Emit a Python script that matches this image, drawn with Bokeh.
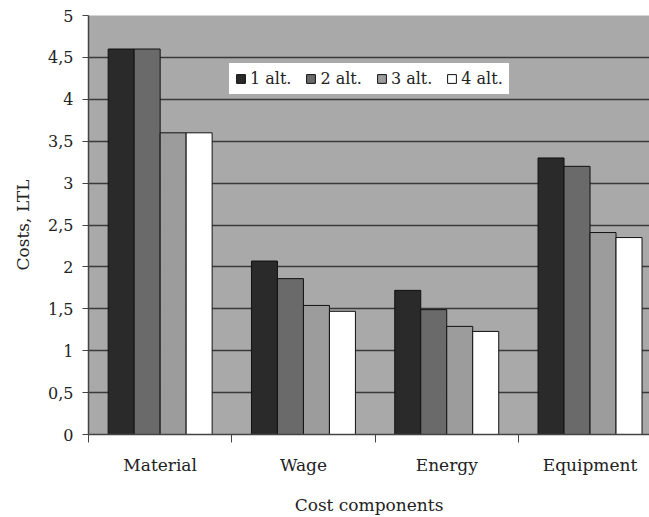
from bokeh.plotting import figure
from bokeh.models import Range1d, FixedTicker, Legend, LegendItem, ColumnDataSource
from bokeh.transform import dodge
from bokeh.embed import file_html
from bokeh.resources import INLINE

# ---- data ----
categories = ["Material", "Wage", "Energy", "Equipment"]
alt1 = [4.6, 2.07, 1.72, 3.3]
alt2 = [4.6, 1.86, 1.49, 3.2]
alt3 = [3.6, 1.54, 1.29, 2.41]
alt4 = [3.6, 1.47, 1.23, 2.35]
series_names = ["1 alt.", "2 alt.", "3 alt.", "4 alt."]
series_colors = ["#2a2a2a", "#6a6a6a", "#9c9c9c", "#ffffff"]
y_ticks = [0, 0.5, 1, 1.5, 2, 2.5, 3, 3.5, 4, 4.5, 5]
y_tick_labels = ["0", "0,5", "1", "1,5", "2", "2,5", "3", "3,5", "4", "4,5", "5"]

centers = [i + 0.5 for i in range(len(categories))]
source = ColumnDataSource(dict(center=centers, a1=alt1, a2=alt2, a3=alt3, a4=alt4))

FONT = "DejaVu Serif"
TXT = "#222222"

p = figure(width=649, height=517, output_backend="svg", toolbar_location=None,
           x_range=Range1d(0, 3.915), y_range=Range1d(0, 5),
           min_border_left=88, min_border_right=0, min_border_top=15, min_border_bottom=82)
p.background_fill_color = "#a9a9a9"
p.border_fill_color = "white"
p.outline_line_color = None

bw = 0.1814
offsets = [-1.5 * bw, -0.5 * bw, 0.5 * bw, 1.5 * bw]
renderers = []
for col, off, color in zip(["a1", "a2", "a3", "a4"], offsets, series_colors):
    r = p.vbar(x=dodge("center", off, range=p.x_range), top=col, width=bw, bottom=0,
               source=source, fill_color=color, line_color="#111111", line_width=1)
    renderers.append(r)

# grid
p.xgrid.visible = False
p.ygrid.ticker = FixedTicker(ticks=y_ticks[1:-1])
p.ygrid.grid_line_color = "#3a3a3a"
p.ygrid.grid_line_width = 1.5
p.ygrid.level = "underlay"

# x axis
p.xaxis.ticker = FixedTicker(ticks=centers, minor_ticks=[0, 1, 2, 3])
p.xaxis.major_label_overrides = {c: n for c, n in zip(centers, categories)}
p.xaxis.major_tick_out = 0
p.xaxis.major_tick_in = 0
p.xaxis.minor_tick_out = 8
p.xaxis.minor_tick_in = 0
p.xaxis.minor_tick_line_color = "#444444"
p.xaxis.axis_line_color = "#444444"
p.xaxis.axis_line_width = 1.5
p.xaxis.major_label_standoff = 12
p.xaxis.major_label_text_font = FONT
p.xaxis.major_label_text_font_size = "17px"
p.xaxis.major_label_text_color = TXT
p.xaxis.axis_label = "Cost components"
p.xaxis.axis_label_text_font = FONT
p.xaxis.axis_label_text_font_size = "17px"
p.xaxis.axis_label_text_font_style = "normal"
p.xaxis.axis_label_text_color = TXT
p.xaxis.axis_label_standoff = 17

# y axis
p.yaxis.ticker = FixedTicker(ticks=y_ticks)
p.yaxis.major_label_overrides = {t: l for t, l in zip(y_ticks, y_tick_labels)}
p.yaxis.major_tick_out = 6
p.yaxis.major_tick_in = 0
p.yaxis.minor_tick_out = 0
p.yaxis.minor_tick_in = 0
p.yaxis.major_tick_line_color = "#444444"
p.yaxis.axis_line_color = "#444444"
p.yaxis.axis_line_width = 1.5
p.yaxis.major_label_standoff = 9
p.yaxis.major_label_text_font = FONT
p.yaxis.major_label_text_font_size = "16px"
p.yaxis.major_label_text_color = TXT
p.yaxis.axis_label = "Costs, LTL"
p.yaxis.axis_label_text_font = FONT
p.yaxis.axis_label_text_font_size = "17px"
p.yaxis.axis_label_text_font_style = "normal"
p.yaxis.axis_label_text_color = TXT
p.yaxis.axis_label_standoff = 12

# legend
items = [LegendItem(label=n, renderers=[r]) for n, r in zip(series_names, renderers)]
legend = Legend(items=items, location=(140, 339), orientation="horizontal")
legend.label_text_font = FONT
legend.label_text_font_size = "16px"
legend.label_text_color = TXT
legend.glyph_width = 11
legend.glyph_height = 11
legend.label_standoff = 4
legend.label_height = 16
legend.spacing = 14
legend.padding = 6
legend.margin = 0
legend.border_line_color = "#555555"
legend.border_line_width = 1
legend.background_fill_color = "white"
legend.background_fill_alpha = 1
p.add_layout(legend)

open("out.html", "w").write(file_html(p, INLINE))
